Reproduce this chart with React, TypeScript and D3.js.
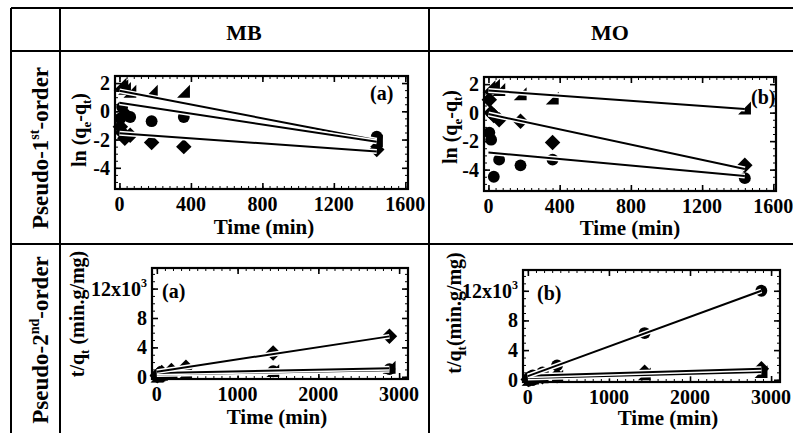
import { useEffect, useRef } from 'react';
import * as d3 from 'd3';

const W = 793;
const H = 433;
const FONT = '"Liberation Serif", "Times New Roman", serif';

// sampling times (min)
const timesFirst = [5, 15, 30, 60, 180, 360, 1440];
const timesSecond = [5, 15, 30, 60, 180, 360, 1440, 2880];
// fitted lines are drawn between these times
const fitSpanFirst = [0, 1440];
const fitSpanSecond = [0, 2880];

// MB, pseudo-1st-order: ln(qe - qt)
const mbFirstTriangle = [1.9, 1.8, 1.6, 1.4, 1.4, 1.4, -2.1];
const mbFirstCircle = [-0.5, 0.3, -0.2, -0.4, -0.7, -0.4, -1.8];
const mbFirstDiamond = [-1.1, -1.5, -1.9, -1.7, -2.2, -2.5, -2.7];
// fit value at start / end of span
const mbFirstFitTriangle = [1.45, -2.05];
const mbFirstFitCircle = [0.6, -2.15];
const mbFirstFitDiamond = [-1.55, -2.85];

// MO, pseudo-1st-order
const moFirstTriangle = [1.8, 1.7, 1.9, 1.6, 1.3, 1.0, 0.3];
const moFirstDiamond = [0.9, 0.0, -0.2, -0.5, -0.6, -2.1, -3.7];
const moFirstCircle = [-1.4, -1.9, -4.5, -3.3, -3.7, -3.3, -4.6];
const moFirstFitTriangle = [1.55, 0.25];
const moFirstFitDiamond = [-0.1, -3.95];
const moFirstFitCircle = [-2.8, -4.45];

// MB, pseudo-2nd-order: t/qt (min.g/mg)
const mbSecondDiamond = [150, 300, 450, 600, 850, 1300, 3250, 5500];
const mbSecondTriangle = [40, 100, 180, 280, 450, 600, 800, 1250];
const mbSecondCircle = [30, 80, 150, 250, 400, 550, 750, 1050];
const mbSecondFitDiamond = [700, 5500];
const mbSecondFitTriangle = [500, 1150];
const mbSecondFitCircle = [300, 900];

// MO, pseudo-2nd-order
const moSecondCircle = [100, 250, 400, 600, 1000, 1950, 6300, 12000];
const moSecondDiamond = [30, 80, 150, 250, 400, 550, 1000, 1500];
const moSecondTriangle = [20, 60, 120, 200, 350, 450, 750, 1050];
const moSecondFitCircle = [500, 12000];
const moSecondFitDiamond = [550, 1500];
const moSecondFitTriangle = [250, 1050];

const xTicksFirst = [0, 400, 800, 1200, 1600];
const yTicksFirst = [-4, -2, 0, 2];
const xTicksSecond = [0, 1000, 2000, 3000];
const yTicksSecond = [0, 4000, 8000, 12000];

const diamondType = {
  draw(ctx, size) {
    const r = Math.sqrt(size / 2);
    ctx.moveTo(0, -r);
    ctx.lineTo(r, 0);
    ctx.lineTo(0, r);
    ctx.lineTo(-r, 0);
    ctx.closePath();
  },
};
const triangleType = {
  draw(ctx, size) {
    const s = Math.sqrt(size) / 2;
    ctx.moveTo(s, -s * 1.1);
    ctx.lineTo(s, s);
    ctx.lineTo(-s * 1.1, s);
    ctx.closePath();
  },
};
const shapes = {
  circle: { type: d3.symbolCircle, size: 110 },
  diamond: { type: diamondType, size: 120 },
  triangle: { type: triangleType, size: 150 },
};

const panels = [
  {
    box: [115, 76, 408, 189], xDomain: [-25, 1615], yDomain: [-5.5, 2.5],
    times: timesFirst, span: fitSpanFirst, xTicks: xTicksFirst, yTicks: yTicksFirst,
    xMinor: 40, yMinor: 0.5, tag: '(a)', tagPos: [370, 100],
    series: [
      { shape: 'triangle', values: mbFirstTriangle, fit: mbFirstFitTriangle },
      { shape: 'circle', values: mbFirstCircle, fit: mbFirstFitCircle },
      { shape: 'diamond', values: mbFirstDiamond, fit: mbFirstFitDiamond },
    ],
  },
  {
    box: [484, 77, 776, 191], xDomain: [-25, 1615], yDomain: [-5.5, 2.5],
    times: timesFirst, span: fitSpanFirst, xTicks: xTicksFirst, yTicks: yTicksFirst,
    xMinor: 40, yMinor: 0.5, tag: '(b)', tagPos: [751, 104],
    series: [
      { shape: 'triangle', values: moFirstTriangle, fit: moFirstFitTriangle },
      { shape: 'circle', values: moFirstCircle, fit: moFirstFitCircle },
      { shape: 'diamond', values: moFirstDiamond, fit: moFirstFitDiamond },
    ],
  },
  {
    box: [152, 268, 408, 379], xDomain: [-60, 3110], yDomain: [-300, 14800],
    times: timesSecond, span: fitSpanSecond, xTicks: xTicksSecond, yTicks: yTicksSecond,
    xMinor: 100, yMinor: 1000, tag: '(a)', tagPos: [162, 298],
    series: [
      { shape: 'circle', values: mbSecondCircle, fit: mbSecondFitCircle },
      { shape: 'triangle', values: mbSecondTriangle, fit: mbSecondFitTriangle },
      { shape: 'diamond', values: mbSecondDiamond, fit: mbSecondFitDiamond },
    ],
  },
  {
    box: [523, 270, 780, 382], xDomain: [-60, 3110], yDomain: [-300, 14800],
    times: timesSecond, span: fitSpanSecond, xTicks: xTicksSecond, yTicks: yTicksSecond,
    xMinor: 100, yMinor: 1000, tag: '(b)', tagPos: [537, 300],
    series: [
      { shape: 'triangle', values: moSecondTriangle, fit: moSecondFitTriangle },
      { shape: 'diamond', values: moSecondDiamond, fit: moSecondFitDiamond },
      { shape: 'circle', values: moSecondCircle, fit: moSecondFitCircle },
    ],
  },
];

function boldText(g, x, y, size, anchor = 'middle') {
  return g.append('text')
    .attr('x', x)
    .attr('y', y)
    .attr('font-family', FONT)
    .attr('font-weight', 'bold')
    .attr('font-size', size)
    .attr('text-anchor', anchor)
    .attr('fill', '#000');
}

function drawPanel(svg, p) {
  const [x0, y0, x1, y1] = p.box;
  const x = d3.scaleLinear().domain(p.xDomain).range([x0, x1]);
  const y = d3.scaleLinear().domain(p.yDomain).range([y1, y0]);
  const g = svg.append('g');

  const minorX = d3.range(Math.ceil(p.xDomain[0] / p.xMinor), Math.floor(p.xDomain[1] / p.xMinor) + 1)
    .map(i => i * p.xMinor);
  const minorY = d3.range(Math.ceil(p.yDomain[0] / p.yMinor), Math.floor(p.yDomain[1] / p.yMinor) + 1)
    .map(i => i * p.yMinor);

  const axes = [
    [d3.axisBottom(x), `translate(0,${y1})`, p.xTicks, minorX],
    [d3.axisTop(x), `translate(0,${y0})`, p.xTicks, minorX],
    [d3.axisLeft(y), `translate(${x0},0)`, p.yTicks, minorY],
    [d3.axisRight(y), `translate(${x1},0)`, p.yTicks, minorY],
  ];
  axes.forEach(([axis, tr, major, minor]) => {
    g.append('g').attr('transform', tr)
      .call(axis.tickValues(minor).tickSize(-3).tickFormat(() => ''))
      .call(a => a.select('.domain').remove())
      .selectAll('line').attr('stroke-width', 1);
    g.append('g').attr('transform', tr)
      .call(axis.tickValues(major).tickSize(-6).tickFormat(() => ''))
      .call(a => a.select('.domain').remove())
      .selectAll('line').attr('stroke-width', 1.6);
  });

  g.append('rect')
    .attr('x', x0).attr('y', y0)
    .attr('width', x1 - x0).attr('height', y1 - y0)
    .attr('fill', 'none').attr('stroke', '#000').attr('stroke-width', 2.2);

  // tick labels
  p.xTicks.forEach(v => {
    boldText(g, x(v), y1 + 22, 20).text(v);
  });
  p.yTicks.forEach(v => {
    const t = boldText(g, x0 - 5, y(v) + 7, 20, 'end');
    if (v === 12000) {
      t.text('12x10');
      t.append('tspan').attr('font-size', 12).attr('dy', -9).text('3');
    } else if (v >= 1000) {
      t.text(v / 1000);
    } else {
      t.text(v);
    }
  });

  // markers
  p.series.forEach(s => {
    const sym = d3.symbol().type(shapes[s.shape].type).size(shapes[s.shape].size);
    g.append('g').selectAll('path')
      .data(p.times.map((t, i) => [t, s.values[i]]))
      .join('path')
      .attr('transform', d => `translate(${x(d[0])},${y(d[1])})`)
      .attr('d', sym())
      .attr('fill', '#000');
  });

  // fitted lines with a white halo
  const line = d3.line().x(d => x(d[0])).y(d => y(d[1]));
  p.series.forEach(s => {
    const pts = p.span.map((t, i) => [t, s.fit[i]]);
    g.append('path').attr('d', line(pts))
      .attr('stroke', '#fff').attr('stroke-width', 5).attr('fill', 'none');
    g.append('path').attr('d', line(pts))
      .attr('stroke', '#000').attr('stroke-width', 2).attr('fill', 'none');
  });

  boldText(g, p.tagPos[0], p.tagPos[1], 20, 'start').text(p.tag);
}

function rotatedLabel(svg, cx, cy, size) {
  return svg.append('text')
    .attr('transform', `translate(${cx},${cy}) rotate(-90)`)
    .attr('x', 0)
    .attr('y', size * 0.35)
    .attr('font-family', FONT)
    .attr('font-weight', 'bold')
    .attr('font-size', size)
    .attr('text-anchor', 'middle');
}

function lnLabel(svg, cx, cy) {
  const t = rotatedLabel(svg, cx, cy, 20);
  t.append('tspan').text('ln (q');
  t.append('tspan').attr('font-size', 13).attr('dy', 5).text('e');
  t.append('tspan').attr('dy', -5).text('-q');
  t.append('tspan').attr('font-size', 13).attr('dy', 5).text('t');
  t.append('tspan').attr('dy', -5).text(')');
}

function tqLabel(svg, cx, cy, gap) {
  const t = rotatedLabel(svg, cx, cy, 20);
  t.append('tspan').text('t/q');
  t.append('tspan').attr('font-size', 13).attr('dy', 5).text('t');
  t.append('tspan').attr('dy', -5).text(gap ? ' (min.g/mg)' : '(min.g/mg)');
}

function rowLabel(svg, cx, cy, num, sup) {
  const t = rotatedLabel(svg, cx, cy, 23);
  t.append('tspan').text(`Pseudo-${num}`);
  t.append('tspan').attr('font-size', 14).attr('dy', -9).text(sup);
  t.append('tspan').attr('dy', 9).text('-order');
}

export default function App() {
  const ref = useRef(null);

  useEffect(() => {
    const svg = d3.select(ref.current);
    svg.selectAll('*').remove();

    svg.append('rect').attr('width', W).attr('height', H).attr('fill', '#fff');

    // table grid
    const grid = svg.append('g').attr('stroke', '#000').attr('stroke-width', 2);
    grid.append('line').attr('x1', 11).attr('x2', W).attr('y1', 8).attr('y2', 8);
    grid.append('line').attr('x1', 11).attr('x2', W).attr('y1', 51).attr('y2', 51);
    grid.append('line').attr('x1', 11).attr('x2', W).attr('y1', 244).attr('y2', 244);
    grid.append('line').attr('x1', 11).attr('x2', 11).attr('y1', 8).attr('y2', H);
    grid.append('line').attr('x1', 60).attr('x2', 60).attr('y1', 8).attr('y2', H);
    grid.append('line').attr('x1', 429).attr('x2', 429).attr('y1', 8).attr('y2', H);

    boldText(svg, 244, 40, 22).text('MB');
    boldText(svg, 610, 40, 22).text('MO');

    rowLabel(svg, 40, 148, 1, 'st');
    rowLabel(svg, 40, 340, 2, 'nd');

    panels.forEach(p => drawPanel(svg, p));

    lnLabel(svg, 79, 130);
    lnLabel(svg, 450, 127);
    tqLabel(svg, 77, 314, true);
    tqLabel(svg, 454, 313, false);

    boldText(svg, 264, 234, 21).text('Time (min)');
    boldText(svg, 630, 235, 21).text('Time (min)');
    boldText(svg, 277, 424, 21).text('Time (min)');
    boldText(svg, 668, 425, 21).text('Time (min)');
  }, []);

  return (
    <svg
      ref={ref}
      width={W}
      height={H}
      style={{ position: 'absolute', left: 0, top: 0, display: 'block' }}
    />
  );
}
